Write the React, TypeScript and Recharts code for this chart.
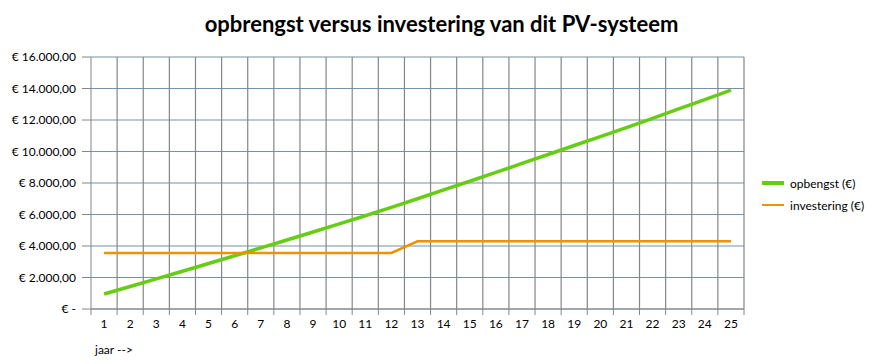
import { LineChart, Line, XAxis, YAxis, CartesianGrid, ReferenceLine } from 'recharts';

const years = [1, 2, 3, 4, 5, 6, 7, 8, 9, 10, 11, 12, 13, 14, 15, 16, 17, 18, 19, 20, 21, 22, 23, 24, 25];
const opbrengst = [950, 1430, 1910, 2400, 2890, 3380, 3880, 4380, 4890, 5400, 5920, 6450, 7000, 7560, 8110, 8670, 9240, 9810, 10380, 10940, 11520, 12100, 12700, 13300, 13900];
const investering = [3560, 3560, 3560, 3560, 3560, 3560, 3560, 3560, 3560, 3560, 3560, 3560, 4300, 4300, 4300, 4300, 4300, 4300, 4300, 4300, 4300, 4300, 4300, 4300, 4300];
const yTicks = [0, 2000, 4000, 6000, 8000, 10000, 12000, 14000, 16000];
// boundaries between the years, for the gray vertical grid and the tick marks
const yearEdges = [0.5, ...years.map((y) => y + 0.5)];

const series = [
  { key: 'opbrengst', name: 'opbengst (€)', color: '#66cc14', width: 3.5 },
  { key: 'investering', name: 'investering (€)', color: '#ee9200', width: 2.5 },
];

const data = years.map((jaar, i) => ({ jaar, opbrengst: opbrengst[i], investering: investering[i] }));

const font = 'Lato, "Open Sans", sans-serif';
const gray = '#868686';

const euro = (v: number) =>
  v === 0 ? '€ -' : '€ ' + v.toLocaleString('nl-NL', { minimumFractionDigits: 2, maximumFractionDigits: 2 });

export default function App() {
  return (
    <div style={{ position: 'absolute', left: 0, top: 0, width: 883, height: 364, background: '#fff', fontFamily: font }}>
      <div style={{ position: 'absolute', left: 0, top: 10, width: 883, textAlign: 'center', fontSize: 22, fontWeight: 700, color: '#000' }}>
        opbrengst versus investering van dit PV-systeem
      </div>
      <LineChart width={883} height={364} data={data} margin={{ top: 57, right: 139, left: 0, bottom: 25 }}>
        <CartesianGrid xAxisId="lab" vertical={false} stroke="#7691a8" strokeWidth={1.2} />
        <XAxis
          xAxisId="edge"
          dataKey="jaar"
          type="number"
          domain={[0.5, 25.5]}
          ticks={yearEdges}
          interval={0}
          tickFormatter={() => ''}
          height={1}
          tickSize={6}
          stroke={gray}
        />
        <XAxis
          xAxisId="lab"
          dataKey="jaar"
          type="number"
          domain={[0.5, 25.5]}
          ticks={years}
          interval={0}
          axisLine={false}
          tickLine={false}
          tickSize={0}
          tickMargin={9}
          height={29}
          tick={{ fontSize: 12, fill: '#000', fontFamily: font }}
        />
        <YAxis
          domain={[0, 16000]}
          ticks={yTicks}
          width={91}
          tickSize={9}
          tickMargin={6}
          stroke={gray}
          tickFormatter={euro}
          tick={{ fontSize: 12, fill: '#000', fontFamily: font }}
        />
        {yearEdges.slice(1).map((e) => (
          <ReferenceLine key={e} xAxisId="edge" x={e} stroke={gray} strokeWidth={1.2} />
        ))}
        {series.map((s) => (
          <Line
            key={s.key}
            xAxisId="lab"
            dataKey={s.key}
            name={s.name}
            stroke={s.color}
            strokeWidth={s.width}
            dot={false}
            isAnimationActive={false}
          />
        ))}
      </LineChart>
      <div style={{ position: 'absolute', left: 95, top: 342, fontSize: 12, color: '#000' }}>jaar --&gt;</div>
      <div style={{ position: 'absolute', left: 762, top: 172, fontSize: 12, color: '#000' }}>
        {series.map((s) => (
          <div key={s.key} style={{ display: 'flex', alignItems: 'center', height: 22 }}>
            <span style={{ display: 'inline-block', width: 22, height: s.width, background: s.color, marginRight: 6 }} />
            {s.name}
          </div>
        ))}
      </div>
    </div>
  );
}
